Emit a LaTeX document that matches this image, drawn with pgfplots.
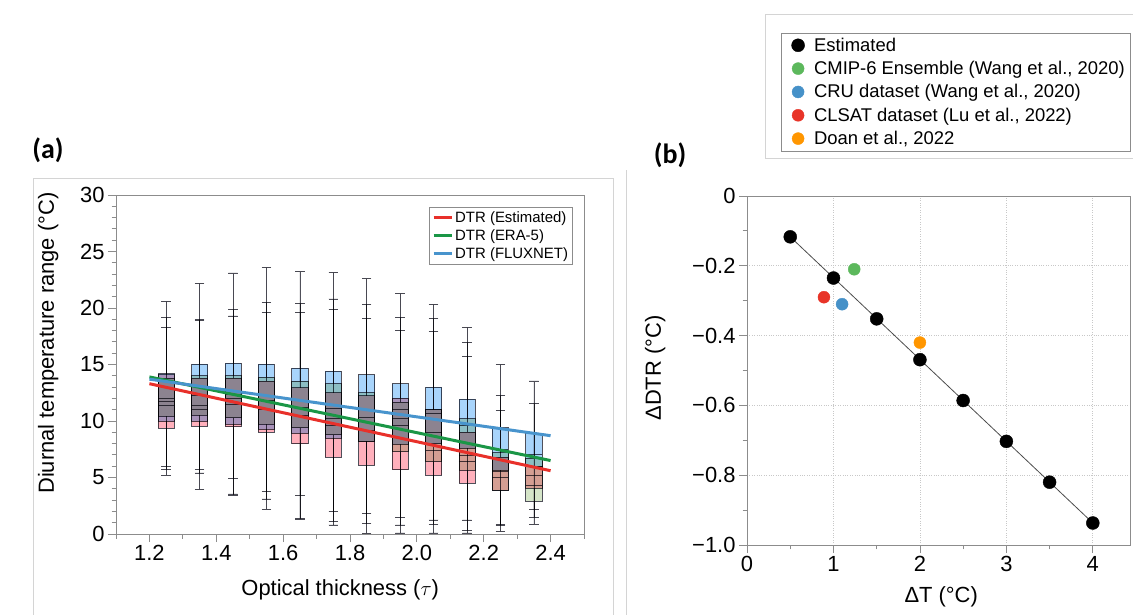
\documentclass[border=0pt]{standalone}
\usepackage{fontspec}
\setmainfont{Liberation Sans}
\newfontfamily\panelfont{Carlito}
\usepackage{pgfplots}
\pgfplotsset{compat=1.18}
\usepgfplotslibrary{statistics}

\definecolor{rfill}{RGB}{255,176,188}
\definecolor{gfill}{RGB}{213,229,200}
\definecolor{bfill}{RGB}{168,212,251}
\definecolor{boxline}{RGB}{80,80,90}
\definecolor{lred}{RGB}{232,48,42}
\definecolor{lgreen}{RGB}{26,150,70}
\definecolor{lblue}{RGB}{72,148,205}
\definecolor{pgreen}{RGB}{92,184,92}
\definecolor{pblue}{RGB}{70,145,200}
\definecolor{pred}{RGB}{232,52,40}
\definecolor{porange}{RGB}{255,150,0}
\definecolor{axisgrey}{RGB}{140,140,140}
\definecolor{framegrey}{RGB}{212,212,212}
\definecolor{gridgrey}{RGB}{200,200,200}

% one box: fill, position, lower whisker, q1, median, q3, upper whisker
\newcommand{\bx}[7]{%
  \addplot[forget plot, draw=boxline, line width=0.7bp, fill=#1, blend mode=multiply,
    boxplot prepared={draw direction=y, draw position=#2,
      box extend=0.048, whisker extend=0.028,
      lower whisker=#3, lower quartile=#4,
      median=#5, upper quartile=#6, upper whisker=#7}] coordinates {};}

\begin{document}
\begin{tikzpicture}
\path[use as bounding box] (0bp,0bp) rectangle (1133bp,615bp);

% panel frames
\draw[framegrey, line width=0.8bp] (33bp,0bp) -- (33bp,437bp) -- (613bp,437bp) -- (613bp,0bp);
\draw[framegrey, line width=0.8bp] (626bp,0bp) -- (626bp,445bp);
\draw[framegrey, line width=0.8bp] (765bp,457bp) rectangle (1140bp,601bp);

\node[font=\panelfont\bfseries\fontsize{28}{30}\selectfont] at (48bp,465bp) {(a)};
\node[font=\panelfont\bfseries\fontsize{28}{30}\selectfont] at (670bp,460bp) {(b)};

% ---------- (a) ----------
\begin{axis}[
  at={(116bp,81bp)}, anchor=south west, scale only axis,
  width=468bp, height=339bp,
  xmin=1.1, xmax=2.5, ymin=0, ymax=30,
  xtick={1.2,1.4,1.6,1.8,2.0,2.2,2.4},
  xticklabels={1.2,1.4,1.6,1.8,2.0,2.2,2.4},
  minor xtick={1.1,1.3,1.5,1.7,1.9,2.1,2.3,2.5},
  ytick={0,5,10,15,20,25,30},
  minor ytick={0,1,...,30},
  tick align=outside, xtick pos=bottom, ytick pos=left,
  major tick length=8bp, minor tick length=4.5bp,
  axis line style={axisgrey, line width=0.8bp},
  tick style={axisgrey, line width=0.8bp},
  tick label style={font=\fontsize{22}{26}\selectfont},
  /pgf/number format/assume math mode=true,
  xlabel={Optical thickness ($\tau$)},
  ylabel={Diurnal temperature range (°C)},
  label style={font=\fontsize{22}{26}\selectfont},
  xlabel style={at={(axis description cs:0.479,-0.165)}, anchor=center},
  ylabel style={at={(axis description cs:-0.145,0.563)}, anchor=center},
  boxplot/every whisker/.style={boxline, line width=0.7bp},
  legend style={at={(0.976,0.965)}, anchor=north east, draw=axisgrey,
    font=\fontsize{15}{17}\selectfont, inner sep=2.5bp, row sep=1.5bp},
  legend cell align=left,
  legend image code/.code={\draw[#1, line width=3bp] (0bp,0bp) -- (18bp,0bp);},
]
\bx{bfill}{1.25}{6.0}{10.0}{11.4}{14.2}{20.6}
\bx{gfill}{1.25}{5.75}{10.4}{12.0}{13.8}{19.2}
\bx{rfill}{1.25}{5.2}{9.35}{11.7}{14.1}{18.3}

\bx{bfill}{1.35}{5.7}{10.0}{12.3}{15.0}{22.2}
\bx{gfill}{1.35}{5.4}{10.5}{11.4}{14.0}{19.0}
\bx{rfill}{1.35}{3.95}{9.56}{11.0}{13.8}{18.9}

\bx{bfill}{1.45}{4.9}{9.7}{12.4}{15.1}{23.1}
\bx{gfill}{1.45}{3.55}{10.3}{12.0}{14.0}{19.9}
\bx{rfill}{1.45}{3.45}{9.5}{11.5}{13.8}{19.3}

\bx{bfill}{1.55}{3.8}{9.3}{12.3}{15.0}{23.6}
\bx{gfill}{1.55}{3.1}{9.7}{11.8}{13.9}{20.5}
\bx{rfill}{1.55}{2.2}{9.0}{11.0}{13.5}{19.6}

\bx{bfill}{1.65}{3.4}{8.9}{11.8}{14.7}{23.2}
\bx{gfill}{1.65}{1.4}{9.4}{11.2}{13.5}{20.4}
\bx{rfill}{1.65}{1.3}{8.0}{10.5}{12.95}{19.6}

\bx{bfill}{1.75}{2.0}{8.5}{11.1}{14.4}{23.15}
\bx{gfill}{1.75}{1.15}{8.8}{10.2}{13.3}{20.8}
\bx{rfill}{1.75}{0.8}{6.8}{9.6}{12.5}{19.9}

\bx{bfill}{1.85}{1.8}{8.2}{11.0}{14.1}{22.6}
\bx{gfill}{1.85}{0.95}{8.2}{10.3}{12.5}{20.35}
\bx{rfill}{1.85}{0.05}{6.1}{9.2}{12.25}{19.1}

\bx{bfill}{1.95}{1.45}{7.95}{11.0}{13.3}{21.3}
\bx{gfill}{1.95}{0.8}{7.3}{10.2}{11.65}{19.2}
\bx{rfill}{1.95}{0.1}{5.7}{9.6}{12.0}{18.05}

\bx{bfill}{2.05}{1.25}{8.0}{10.7}{13.0}{20.35}
\bx{gfill}{2.05}{0.85}{6.4}{9.0}{11.0}{19.1}
\bx{rfill}{2.05}{0.1}{5.2}{7.4}{11.0}{17.9}

\bx{bfill}{2.15}{1.25}{7.6}{9.6}{11.95}{18.3}
\bx{gfill}{2.15}{0.3}{5.65}{7.0}{10.2}{16.95}
\bx{rfill}{2.15}{0.1}{4.5}{6.4}{9.0}{15.75}

\bx{bfill}{2.25}{0.85}{5.65}{7.5}{9.4}{15.0}
\bx{gfill}{2.25}{0.75}{3.9}{5.5}{7.2}{12.25}
\bx{rfill}{2.25}{0.2}{3.9}{5.0}{6.8}{10.9}

\bx{bfill}{2.35}{2.2}{5.95}{7.05}{8.9}{13.55}
\bx{gfill}{2.35}{0.85}{2.9}{4.3}{6.7}{11.55}
\bx{rfill}{2.35}{1.5}{4.05}{5.2}{5.95}{8.95}

\addplot[lred, line width=3bp] coordinates {(1.2,13.3) (2.4,5.6)};
\addlegendentry{DTR (Estimated)}
\addplot[lgreen, line width=3bp] coordinates {(1.2,13.9) (2.4,6.5)};
\addlegendentry{DTR (ERA-5)}
\addplot[lblue, line width=3bp] coordinates {(1.2,13.7) (2.4,8.7)};
\addlegendentry{DTR (FLUXNET)}
\end{axis}

% ---------- (b) ----------
\begin{axis}[
  at={(747bp,70bp)}, anchor=south west, scale only axis,
  width=383bp, height=349bp,
  xmin=0, xmax=4.43, ymin=-1, ymax=0,
  xtick={0,1,2,3,4},
  minor xtick={0.5,1.5,2.5,3.5},
  ytick={-1,-0.8,-0.6,-0.4,-0.2,0},
  yticklabels={−1.0,−0.8,−0.6,−0.4,−0.2,0},
  minor ytick={-0.9,-0.7,-0.5,-0.3,-0.1},
  tick align=outside, xtick pos=bottom, ytick pos=left,
  major tick length=8bp, minor tick length=4.5bp,
  axis line style={axisgrey, line width=0.8bp},
  tick style={axisgrey, line width=0.8bp},
  tick label style={font=\fontsize{22}{26}\selectfont},
  /pgf/number format/assume math mode=true,
  grid=major, major grid style={dotted, gridgrey, line width=0.8bp},
  xlabel={ΔT (°C)},
  ylabel={ΔDTR (°C)},
  label style={font=\fontsize{22}{26}\selectfont},
  xlabel style={at={(axis description cs:0.507,-0.149)}, anchor=center},
  ylabel style={at={(axis description cs:-0.24,0.507)}, anchor=center},
  legend style={at={(1.0,1.468)}, anchor=north east, draw=axisgrey,
    font=\fontsize{18.5}{21}\selectfont, inner sep=3bp, row sep=4.5bp},
  legend cell align=left,
  legend image code/.code={\path[draw=none, fill=none] (0bp,-5bp) rectangle (28bp,5bp);
    \draw[#1] plot coordinates {(14bp,0bp)};},
]
\addplot[forget plot, black!70, line width=0.8bp] coordinates {(0.5,-0.117) (4,-0.937)};
\addplot[only marks, mark=*, mark size=6.5bp, black] coordinates {
  (0.5,-0.117) (1,-0.235) (1.5,-0.352) (2,-0.469) (2.5,-0.586) (3,-0.703) (3.5,-0.820) (4,-0.937)};
\addlegendentry{Estimated}
\addplot[only marks, mark=*, mark size=6bp, pgreen] coordinates {(1.24,-0.21)};
\addlegendentry{CMIP-6 Ensemble (Wang et al., 2020)}
\addplot[only marks, mark=*, mark size=6bp, pblue] coordinates {(1.10,-0.31)};
\addlegendentry{CRU dataset (Wang et al., 2020)}
\addplot[only marks, mark=*, mark size=6bp, pred] coordinates {(0.89,-0.29)};
\addlegendentry{CLSAT dataset (Lu et al., 2022)}
\addplot[only marks, mark=*, mark size=6bp, porange] coordinates {(2.0,-0.42)};
\addlegendentry{Doan et al., 2022}
\end{axis}
\end{tikzpicture}
\end{document}
